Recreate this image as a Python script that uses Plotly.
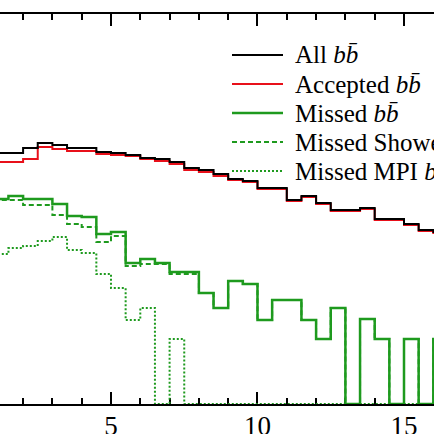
import plotly.graph_objects as go

# bin left edges (width 0.5) from 1.0 to 16.0
bin_lo = [1.0 + 0.5 * i for i in range(31)]
bin_w = 0.5

all_bb = [0.251, 0.251, 0.256, 0.261, 0.259, 0.256, 0.256, 0.252, 0.251, 0.249, 0.246,
          0.245, 0.242, 0.236, 0.234, 0.230, 0.225, 0.223, 0.216, 0.216, 0.204, 0.208,
          0.201, 0.194, 0.194, 0.196, 0.185, 0.185, 0.180, 0.174, 0.172]
accepted_bb = [0.242, 0.242, 0.245, 0.257, 0.255, 0.253, 0.253, 0.250, 0.249, 0.248, 0.245,
               0.243, 0.240, 0.234, 0.232, 0.228, 0.224, 0.222, 0.215, 0.215, 0.203, 0.207,
               0.200, 0.193, 0.193, 0.195, 0.184, 0.184, 0.179, 0.173, 0.171]
missed_bb = [0.205, 0.208, 0.205, 0.205, 0.200, 0.188, 0.187, 0.170, 0.172, 0.141, 0.145,
             0.141, 0.132, 0.132, 0.111, 0.096, 0.123, 0.120, 0.084, 0.104, 0.104, 0.084,
             0.065, 0.096, 0.0, 0.085, 0.065, 0.0, 0.065, 0.0, 0.065]
missed_shower = [0.204, 0.204, 0.199, 0.199, 0.189, 0.180, 0.177, 0.162, 0.168, 0.138, 0.140,
                 0.140, 0.130, 0.130, 0.111, 0.096, 0.123, 0.120, 0.084, 0.104, 0.104, 0.084,
                 0.065, 0.096, 0.0, 0.085, 0.065, 0.0, 0.065, 0.0, 0.065]
missed_mpi = [0.150, 0.156, 0.158, 0.163, 0.167, 0.154, 0.151, 0.130, 0.116, 0.084, 0.096,
              0.0, 0.065, 0.0, 0.0, 0.0, 0.0, 0.0, 0.0, 0.0, 0.0, 0.0,
              0.0, 0.0, 0.0, 0.0, 0.0, 0.0, 0.0, 0.0, 0.0]

names = ["All <i>b</i><i>b\u0304</i>", "Accepted <i>b</i><i>b\u0304</i>",
         "Missed <i>b</i><i>b\u0304</i>", "Missed Shower <i>b</i><i>b\u0304</i>",
         "Missed MPI <i>b</i><i>b\u0304</i>"]
x_ticks = [5, 10, 15]

GREEN = "#1e9a1e"
RED = "#e8101a"
FONT = "Liberation Serif"

def step(vals):
    xs = bin_lo + [bin_lo[-1] + bin_w]
    ys = vals + [vals[-1]]
    return xs, ys

fig = go.Figure()
series = [
    (missed_mpi, GREEN, 2, "2px,2px"),
    (missed_shower, GREEN, 2, "5px,3px"),
    (missed_bb, GREEN, 2.5, "solid"),
    (accepted_bb, RED, 2, "solid"),
    (all_bb, "black", 2, "solid"),
]
for vals, col, w, dash in series:
    xs, ys = step(vals)
    fig.add_trace(go.Scatter(x=xs, y=ys, mode="lines", line=dict(shape="hv", color=col, width=w, dash=dash),
                             showlegend=False, hoverinfo="skip"))

# manual legend
W, H = 434, 434
mt, mb = 14, 30
ph = H - mt - mb
leg_styles = [("black", 2, "solid"), (RED, 2, "solid"), (GREEN, 2.5, "solid"),
              (GREEN, 2, "5px,3px"), (GREEN, 2, "2px,2px")]
for i, (nm, (col, w, dash)) in enumerate(zip(names, leg_styles)):
    py = 55 + 29 * i
    yp = (H - mb - py) / ph
    fig.add_shape(type="line", xref="paper", yref="paper", x0=232 / W, x1=283 / W, y0=yp, y1=yp,
                  line=dict(color=col, width=w, dash=dash))
    fig.add_annotation(xref="paper", yref="paper", x=293 / W, y=yp, xanchor="left", yanchor="middle",
                       text=nm, showarrow=False, font=dict(family=FONT, size=25, color="black"))

fig.update_layout(
    width=W, height=H,
    margin=dict(l=0, r=0, t=mt, b=mb),
    paper_bgcolor="white", plot_bgcolor="white",
    showlegend=False,
    xaxis=dict(range=[1.212, 16.024], showgrid=False, zeroline=False, automargin=False,
               showline=True, linecolor="black", linewidth=2, mirror="ticks",
               ticks="inside", ticklen=12, tickwidth=2, tickcolor="black",
               tickvals=x_ticks, ticktext=[str(v) for v in x_ticks],
               minor=dict(dtick=1, tick0=0, ticks="inside", ticklen=6, tickwidth=2, tickcolor="black"),
               tickfont=dict(family=FONT, size=27, color="black"),
               ticklabelstandoff=-3,
               layer="below traces"),
    yaxis=dict(range=[0, 0.390], visible=False, showgrid=False, zeroline=False, automargin=False),
)
fig.write_html("out.html", config={"displayModeBar": False, "staticPlot": True},
               post_script="document.body.style.margin='0';document.body.style.overflow='hidden';")
